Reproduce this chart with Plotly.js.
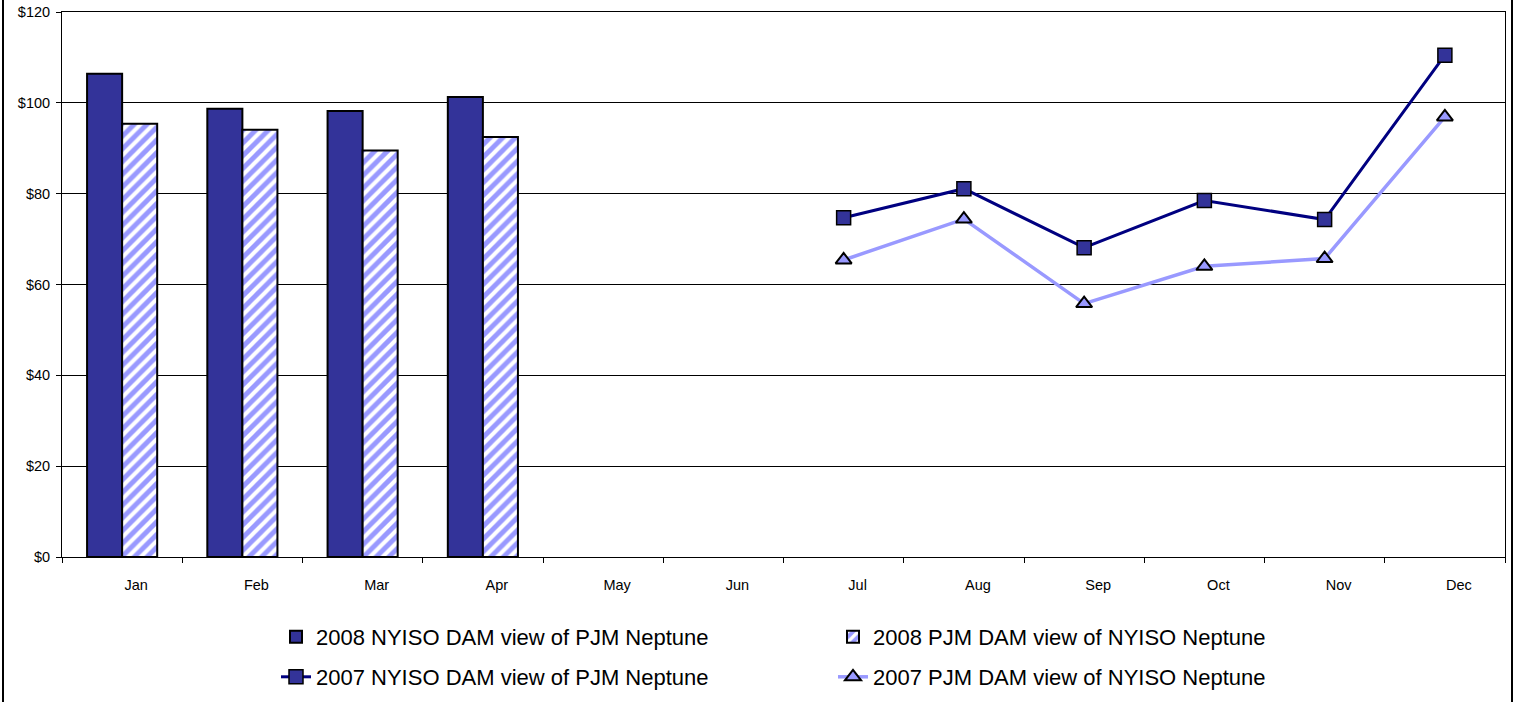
<!DOCTYPE html>
<html>
<head>
<meta charset="utf-8">
<script src="https://cdn.plot.ly/plotly-3.0.1.min.js"></script>
<style>
  html, body { margin: 0; padding: 0; background: #fff; }
  #chart { width: 1517px; height: 702px; }
</style>
</head>
<body>
<div id="chart"></div>
<script>
const months = ["Jan","Feb","Mar","Apr","May","Jun","Jul","Aug","Sep","Oct","Nov","Dec"];

const nyiso2008 = [106.4, 98.7, 98.2, 101.3, null, null, null, null, null, null, null, null];
const pjm2008   = [95.4, 94.1, 89.5, 92.5, null, null, null, null, null, null, null, null];
const nyiso2007 = [null, null, null, null, null, null, 74.7, 81.1, 68.1, 78.5, 74.3, 110.5];
const pjm2007   = [null, null, null, null, null, null, 65.4, 74.4, 55.8, 64.0, 65.7, 96.9];

const names = [
  "2008 NYISO DAM view of PJM Neptune",
  "2008 PJM DAM view of NYISO Neptune",
  "2007 NYISO DAM view of PJM Neptune",
  "2007 PJM DAM view of NYISO Neptune"
];

const traces = [
  {
    type: "bar", x: months, y: nyiso2008, name: names[0], legend: "legend",
    marker: { color: "#333399", line: { color: "#000000", width: 2 } }
  },
  {
    type: "bar", x: months, y: pjm2008, name: names[1], legend: "legend",
    marker: {
      color: "#9999FF",
      line: { color: "#000000", width: 2 },
      pattern: { shape: "/", fgcolor: "#FFFFFF", bgcolor: "#9999FF", size: 9, solidity: 0.45, fillmode: "replace" }
    }
  },
  {
    type: "scatter", mode: "lines+markers", x: months, y: nyiso2007, name: names[2], legend: "legend2",
    line: { color: "#000080", width: 3 },
    marker: { symbol: "square", size: 14, color: "#333399", line: { color: "#000000", width: 1.5 } }
  },
  {
    type: "scatter", mode: "lines+markers", x: months, y: pjm2007, name: names[3], legend: "legend2",
    line: { color: "#9999FF", width: 3.5 },
    marker: { symbol: "triangle-up", size: 14, color: "#9999FF", line: { color: "#000000", width: 2 } }
  }
];

const plotL = 62, plotR = 1505, plotT = 12, plotB = 557;
const pw = plotR - plotL, ph = plotB - plotT;
const FONT = "Liberation Sans, Arial, sans-serif";

const layout = {
  width: 1517, height: 702,
  margin: { l: plotL, r: 1517 - plotR, t: plotT, b: 702 - plotB, autoexpand: false },
  paper_bgcolor: "#FFFFFF", plot_bgcolor: "#FFFFFF",
  font: { family: FONT, color: "#000000", size: 14 },
  barmode: "group", bargap: 0.417, bargroupgap: 0,
  showlegend: true,
  xaxis: {
    type: "category", categoryorder: "array", categoryarray: months,
    range: [-0.5, 11.5],
    showline: true, linecolor: "#000000", linewidth: 1, mirror: true,
    ticks: "outside", tickson: "boundaries", ticklen: 5, tickcolor: "#000000",
    ticklabelshift: 14, ticklabelstandoff: 15,
    tickfont: { size: 14.5, family: FONT },
    showgrid: false, zeroline: false, fixedrange: true
  },
  yaxis: {
    range: [0, 120], dtick: 20, tick0: 0,
    tickprefix: "$", tickformat: ",d",
    showline: true, linecolor: "#000000", linewidth: 1, mirror: true,
    ticks: "outside", ticklen: 5, tickcolor: "#000000", ticklabelstandoff: 3,
    showgrid: true, gridcolor: "#000000", gridwidth: 1,
    zeroline: false,
    tickfont: { size: 14.5, family: FONT },
    fixedrange: true
  },
  legend: {
    orientation: "h", x: (276 - plotL) / pw, xanchor: "left",
    y: -(616 - plotB) / ph, yanchor: "top",
    entrywidth: 512, entrywidthmode: "pixels",
    font: { size: 22, family: FONT },
    bgcolor: "rgba(0,0,0,0)", traceorder: "normal"
  },
  legend2: {
    orientation: "h", x: (276 - plotL) / pw, xanchor: "left",
    y: -(656 - plotB) / ph, yanchor: "top",
    entrywidth: 512, entrywidthmode: "pixels",
    font: { size: 22, family: FONT },
    bgcolor: "rgba(0,0,0,0)", traceorder: "normal"
  },
  shapes: [
    { type: "line", xref: "paper", yref: "paper",
      x0: (3 - plotL) / pw, x1: (3 - plotL) / pw, y0: -(702 - plotB) / ph, y1: (plotB + 10) / ph,
      line: { color: "#000000", width: 2 } },
    { type: "line", xref: "paper", yref: "paper",
      x0: (1512 - plotL) / pw, x1: (1512 - plotL) / pw, y0: -(702 - plotB) / ph, y1: (plotB + 10) / ph,
      line: { color: "#000000", width: 2 } }
  ]
};

Plotly.newPlot("chart", traces, layout, { displayModeBar: false, staticPlot: true });
</script>
</body>
</html>
